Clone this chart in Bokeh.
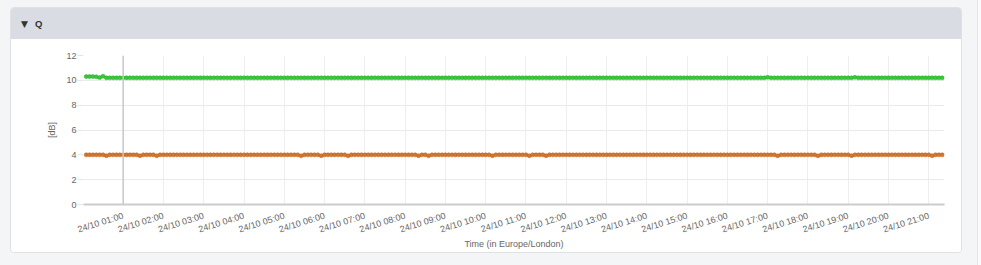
import pandas as pd
from bokeh.plotting import figure
from bokeh.layouts import column
from bokeh.models import Div, Span, FixedTicker, DatetimeTickFormatter, Range1d
from bokeh.embed import file_html
from bokeh.resources import INLINE

panel_title = "Q"
panel_marker = "▼"
y_label = "[dB]"
x_label = "Time (in Europe/London)"
series_start = "2024-10-24 00:05"
step = "5min"
x_start = "2024-10-24 00:00:54"
x_end = "2024-10-24 21:23:24"
tick_first = "2024-10-24 01:00"
tick_count = 21
y_ticks = [0, 2, 4, 6, 8, 10, 12]
marker_hour = "2024-10-24 01:00"

green_values = [
    10.3, 10.3, 10.3, 10.28, 10.22, 10.33, 10.2, 10.2, 10.2, 10.2, 10.2, 10.2, 10.2, 10.2, 10.2, 10.2,
    10.2, 10.2, 10.2, 10.2, 10.2, 10.2, 10.2, 10.2, 10.2, 10.2, 10.2, 10.2, 10.2, 10.2, 10.2, 10.2,
    10.2, 10.2, 10.2, 10.2, 10.2, 10.2, 10.2, 10.2, 10.2, 10.2, 10.2, 10.2, 10.2, 10.2, 10.2, 10.2,
    10.2, 10.2, 10.2, 10.2, 10.2, 10.2, 10.2, 10.2, 10.2, 10.2, 10.2, 10.2, 10.2, 10.2, 10.2, 10.2,
    10.2, 10.2, 10.2, 10.2, 10.2, 10.2, 10.2, 10.2, 10.2, 10.2, 10.2, 10.2, 10.2, 10.2, 10.2, 10.2,
    10.2, 10.2, 10.2, 10.2, 10.2, 10.2, 10.2, 10.2, 10.2, 10.2, 10.2, 10.2, 10.2, 10.2, 10.2, 10.2,
    10.2, 10.2, 10.2, 10.2, 10.2, 10.2, 10.2, 10.2, 10.2, 10.2, 10.2, 10.2, 10.2, 10.2, 10.2, 10.2,
    10.2, 10.2, 10.2, 10.2, 10.2, 10.2, 10.2, 10.2, 10.2, 10.2, 10.2, 10.2, 10.2, 10.2, 10.2, 10.2,
    10.2, 10.2, 10.2, 10.2, 10.2, 10.2, 10.2, 10.2, 10.2, 10.2, 10.2, 10.2, 10.2, 10.2, 10.2, 10.2,
    10.2, 10.2, 10.2, 10.2, 10.2, 10.2, 10.2, 10.2, 10.2, 10.2, 10.2, 10.2, 10.2, 10.2, 10.2, 10.2,
    10.2, 10.2, 10.2, 10.2, 10.2, 10.2, 10.2, 10.2, 10.2, 10.2, 10.2, 10.2, 10.2, 10.2, 10.2, 10.2,
    10.2, 10.2, 10.2, 10.2, 10.2, 10.2, 10.2, 10.2, 10.2, 10.2, 10.2, 10.2, 10.2, 10.2, 10.2, 10.2,
    10.2, 10.2, 10.2, 10.2, 10.2, 10.2, 10.2, 10.2, 10.2, 10.2, 10.2, 10.24, 10.2, 10.2, 10.2, 10.2,
    10.2, 10.2, 10.2, 10.2, 10.2, 10.2, 10.2, 10.2, 10.2, 10.2, 10.2, 10.2, 10.2, 10.2, 10.2, 10.2,
    10.2, 10.2, 10.2, 10.2, 10.2, 10.24, 10.2, 10.2, 10.2, 10.2, 10.2, 10.2, 10.2, 10.2, 10.2, 10.2,
    10.2, 10.2, 10.2, 10.2, 10.2, 10.2, 10.2, 10.2, 10.2, 10.2, 10.2, 10.2, 10.2, 10.2, 10.2, 10.2,
]

orange_values = [
    4.0, 4.0, 4.0, 4.0, 4.0, 4.0, 3.93, 4.0, 4.0, 4.0, 4.0, 4.0, 4.0, 4.0, 4.0, 4.0,
    3.93, 4.0, 4.0, 4.0, 4.0, 3.93, 4.0, 4.0, 4.0, 4.0, 4.0, 4.0, 4.0, 4.0, 4.0, 4.0,
    4.0, 4.0, 4.0, 4.0, 4.0, 4.0, 4.0, 4.0, 4.0, 4.0, 4.0, 4.0, 4.0, 4.0, 4.0, 4.0,
    4.0, 4.0, 4.0, 4.0, 4.0, 4.0, 4.0, 4.0, 4.0, 4.0, 4.0, 4.0, 4.0, 4.0, 4.0, 4.0,
    3.92, 4.0, 4.0, 4.0, 4.0, 4.0, 3.93, 4.0, 4.0, 4.0, 4.0, 4.0, 4.0, 4.0, 3.92, 4.0,
    4.0, 4.0, 4.0, 4.0, 4.0, 4.0, 4.0, 4.0, 4.0, 4.0, 4.0, 4.0, 4.0, 4.0, 4.0, 4.0,
    4.0, 4.0, 4.0, 3.93, 4.0, 4.0, 3.93, 4.0, 4.0, 4.0, 4.0, 4.0, 4.0, 4.0, 4.0, 4.0,
    4.0, 4.0, 4.0, 4.0, 4.0, 4.0, 4.0, 4.0, 4.0, 3.93, 4.0, 4.0, 4.0, 4.0, 4.0, 4.0,
    4.0, 4.0, 4.0, 4.0, 3.93, 4.0, 4.0, 4.0, 4.0, 3.93, 4.0, 4.0, 4.0, 4.0, 4.0, 4.0,
    4.0, 4.0, 4.0, 4.0, 4.0, 4.0, 4.0, 4.0, 4.0, 4.0, 4.0, 4.0, 4.0, 4.0, 4.0, 4.0,
    4.0, 4.0, 4.0, 4.0, 4.0, 4.0, 4.0, 4.0, 4.0, 4.0, 4.0, 4.0, 4.0, 4.0, 4.0, 4.0,
    4.0, 4.0, 4.0, 4.0, 4.0, 4.0, 4.0, 4.0, 4.0, 4.0, 4.0, 4.0, 4.0, 4.0, 4.0, 4.0,
    4.0, 4.0, 4.0, 4.0, 4.0, 4.0, 4.0, 4.0, 4.0, 4.0, 4.0, 4.0, 4.0, 4.0, 3.92, 4.0,
    4.0, 4.0, 4.0, 4.0, 4.0, 4.0, 4.0, 4.0, 4.0, 4.0, 3.92, 4.0, 4.0, 4.0, 4.0, 4.0,
    4.0, 4.0, 4.0, 4.0, 3.93, 4.0, 4.0, 4.0, 4.0, 4.0, 4.0, 4.0, 4.0, 4.0, 4.0, 4.0,
    4.0, 4.0, 4.0, 4.0, 4.0, 4.0, 4.0, 4.0, 4.0, 4.0, 4.0, 4.0, 3.93, 4.0, 4.0, 4.0,
]

green_color = "#3cc83c"
green_edge = "#2fb42f"
orange_color = "#d4782f"
orange_edge = "#c2651e"
font = "Liberation Sans"
text_color = "#666666"

times = pd.date_range(series_start, periods=len(green_values), freq=step)
tick_times = pd.date_range(tick_first, periods=tick_count, freq="h")
tick_ms = [t.value / 1e6 for t in tick_times]

p = figure(width=950, height=213, output_backend="svg", toolbar_location=None,
           x_axis_type="datetime",
           x_range=Range1d(pd.Timestamp(x_start), pd.Timestamp(x_end)),
           y_range=Range1d(0, 12),
           min_border_left=72, min_border_right=17, min_border_top=16, min_border_bottom=46,
           margin=0)
p.border_fill_color = "white"
p.background_fill_color = "white"
p.outline_line_color = None

p.xaxis.ticker = FixedTicker(ticks=tick_ms)
fmt = "%d/%m %H:%M"
p.xaxis.formatter = DatetimeTickFormatter(minutes=fmt, hourmin=fmt, hours=fmt, days=fmt, context=None)
p.xaxis.major_label_orientation = 0.3
p.xaxis.major_label_text_font = font
p.xaxis.major_label_text_font_size = "9px"
p.xaxis.major_label_text_color = text_color
p.xaxis.axis_line_color = "#cccccc"
p.xaxis.axis_line_width = 2
p.xaxis.major_tick_line_color = None
p.xaxis.minor_tick_line_color = None
p.xaxis.major_label_standoff = 5
p.xaxis.axis_label = x_label
p.xaxis.axis_label_text_font = font
p.xaxis.axis_label_text_font_size = "9px"
p.xaxis.axis_label_text_font_style = "normal"
p.xaxis.axis_label_text_color = text_color
p.xaxis.axis_label_standoff = -3

p.yaxis.ticker = FixedTicker(ticks=y_ticks)
p.yaxis.axis_line_color = None
p.yaxis.major_tick_line_color = "#e6e6e6"
p.yaxis.major_tick_out = 6
p.yaxis.major_tick_in = 0
p.yaxis.minor_tick_line_color = None
p.yaxis.major_label_standoff = 1
p.yaxis.major_label_text_font = font
p.yaxis.major_label_text_font_size = "9px"
p.yaxis.major_label_text_color = text_color
p.yaxis.axis_label = y_label
p.yaxis.axis_label_text_font = font
p.yaxis.axis_label_text_font_size = "9px"
p.yaxis.axis_label_text_font_style = "normal"
p.yaxis.axis_label_text_color = text_color
p.yaxis.axis_label_standoff = 6

p.xgrid.ticker = FixedTicker(ticks=tick_ms)
p.xgrid.grid_line_color = "#eeeeee"
p.ygrid.grid_line_color = "#eaeaea"

p.add_layout(Span(location=pd.Timestamp(marker_hour).value / 1e6, dimension="height",
                  line_color="#c8c8c8", line_width=1.5))

for vals, col, edge in [(green_values, green_color, green_edge), (orange_values, orange_color, orange_edge)]:
    p.line(times, vals, line_color=col, line_width=2.5)
    p.scatter(times, vals, size=4, fill_color=col, line_color=edge, line_width=0.6)

header_html = (
    '<div style="width:950px;height:31px;background:#d9dce3;box-sizing:border-box;'
    'padding-left:10px;line-height:31px;font-family:\'Liberation Sans\',\'DejaVu Sans\',sans-serif;'
    'font-size:9.5px;font-weight:bold;color:#333333;">'
    '<span style="font-family:\'DejaVu Sans\';font-size:9px;">' + panel_marker + '</span>'
    '<span style="margin-left:7px;">' + panel_title + '</span></div>'
)
header = Div(text=header_html, width=950, height=31, margin=0)

card = column(header, p, width=952, height=246, margin=(7, 0, 0, 10), spacing=0,
              styles={"background-color": "white", "border": "1px solid #dfe1e5",
                      "border-radius": "4px", "overflow": "hidden", "box-sizing": "border-box"})
page = column(card, width=981, height=265, margin=0, spacing=0,
              styles={"background": "linear-gradient(to right, #f4f5f7 977px, #e4e5e8 977px, "
                                    "#e4e5e8 978px, #fafafb 978px)"})

open("out.html", "w").write(file_html(page, INLINE))
